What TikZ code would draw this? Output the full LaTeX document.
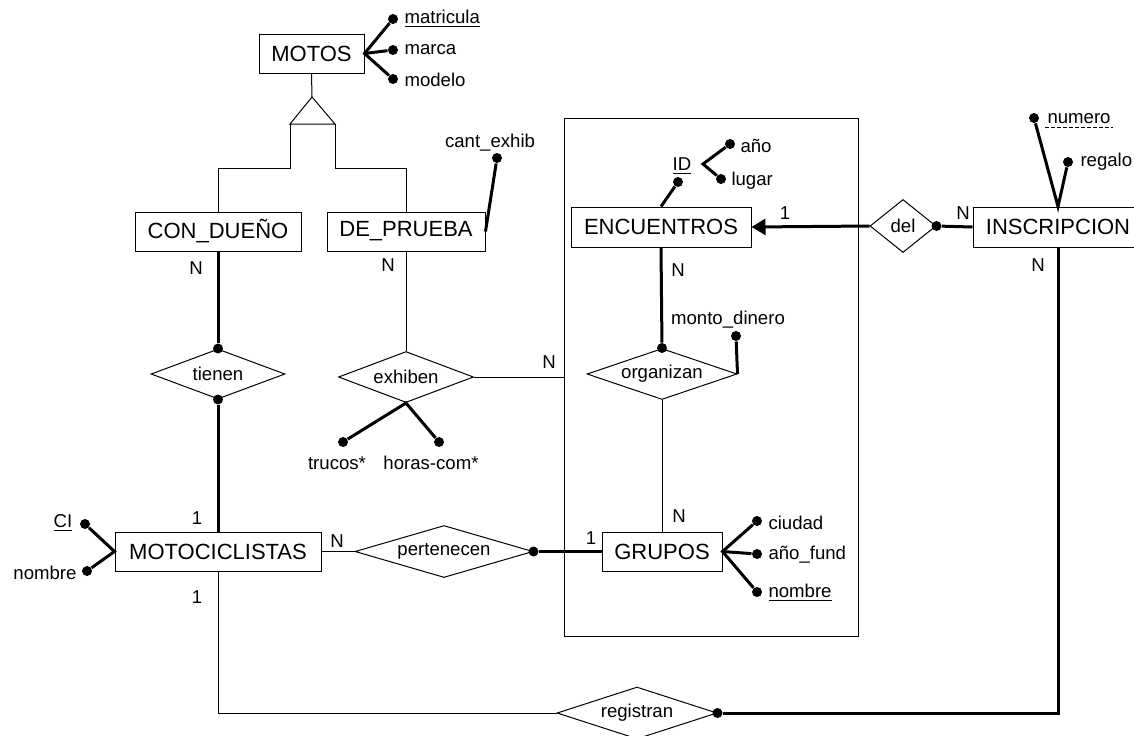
\documentclass[tikz,border=0pt]{standalone}
\usepackage{fontspec}
\setmainfont{Liberation Sans}
\usetikzlibrary{shapes.geometric}
\usetikzlibrary{arrows.meta}

\begin{document}
\begin{tikzpicture}[x=0.5pt, y=-0.5pt, line width=0.5pt,
            entity/.style = {
                draw,
                font=\fontsize{11}{13}\selectfont,
                inner sep=0pt,
                minimum height=19.5pt,
                },
            relation/.style = {
                draw,
                diamond,
                aspect=3,
                font=\fontsize{9.3}{11}\selectfont,
                inner sep=0pt,
                },
            attrib/.style = {font=\fontsize{9.3}{11}\selectfont, inner sep=1pt},
            card/.style = {font=\fontsize{9.3}{11}\selectfont, inner sep=0pt},
            dot/.style = {circle, fill, inner sep=0pt, minimum size=5pt},
            bold/.style = {line width=1.5pt}]
    \useasboundingbox (0,0) rectangle (1134,735);

    % entities
    \node[entity, minimum width=52.5pt] (motos) at (311.5,53.5) {MOTOS};
    \node[entity, minimum width=83pt] (condueno) at (218,231.5) {CON\_DUEÑO};
    \node[entity, minimum width=79pt] (deprueba) at (406,231.5) {DE\_PRUEBA};
    \node[entity, minimum width=90pt, minimum height=20pt] (encuentros) at (661,227) {ENCUENTROS};
    \node[entity, minimum width=85pt, minimum height=20pt] (inscripcion) at (1058,227) {INSCRIPCION};
    \node[entity, minimum width=103pt] (motociclistas) at (218,551.5) {MOTOCICLISTAS};
    \node[entity, minimum width=60pt] (grupos) at (662,551.5) {GRUPOS};

    % aggregation
    \node[draw, minimum width=147pt, minimum height=259pt, inner sep=0pt] (agg) at (711,377) {};

    % relationships
    \node[relation, minimum width=67pt, minimum height=25pt] (tienen) at (218,374) {tienen};
    \node[relation, minimum width=67.5pt, minimum height=25.5pt] (exhiben) at (406,377) {exhiben};
    \node[relation, minimum width=75pt, minimum height=25.5pt] (organizan) at (662,374) {organizan};
    \node[relation, aspect=1.25, minimum width=33pt, minimum height=26.5pt] (del) at (903,226) {del};
    \node[relation, minimum width=89pt, minimum height=26pt] (pertenecen) at (444,551.5) {pertenecen};
    \node[relation, minimum width=80pt, minimum height=26pt] (registran) at (637,713) {registran};

    % ISA
    \coordinate (isa) at (312,97);
    \coordinate (isa-l) at (290,124);
    \coordinate (isa-r) at (335,124);
    \draw (isa) -- (isa-l) -- (isa-r) -- cycle;
    \draw (motos.south) -- (isa);
    \draw (isa-l) -- ++(0,44) -| (condueno.north);
    \draw (isa-r) -- ++(0,44) -| (deprueba.north);

    % attributes
    \node[dot] (d-matricula) at (393,19) {};
    \node[dot] (d-marca) at (393,50) {};
    \node[dot] (d-modelo) at (393,79) {};
    \node[attrib, anchor=west] (matricula) at (402,19) {\underline{matricula}};
    \node[attrib, anchor=west] (marca) at (402,50) {marca};
    \node[attrib, anchor=west] (modelo) at (402,80) {modelo};
    \draw[bold] (d-matricula) -- (motos.east) -- (d-modelo);
    \draw[bold] (motos.east) -- (d-marca);

    \node[dot] (d-cant) at (497,158) {};
    \node[attrib] (cant) at (490,143) {cant\_exhib};
    \draw[bold] (deprueba.east) -- (d-cant);

    \node[dot] (d-trucos) at (343,442) {};
    \node[dot] (d-horas) at (439,442) {};
    \node[attrib] (trucos) at (337,463) {trucos*};
    \node[attrib] (horas) at (431,463) {horas-com*};
    \draw[bold] (d-trucos) -- (exhiben.south) -- (d-horas);

    \node[attrib] (id) at (682,166) {\underline{ID}};
    \node[dot] (d-id) at (678,182) {};
    \draw[bold] (encuentros.north) -- (d-id);
    \coordinate (id-c) at (703,164);
    \node[dot] (d-anio) at (730,144) {};
    \node[dot] (d-lugar) at (721,179) {};
    \node[attrib, anchor=west] (anio) at (738,146) {año};
    \node[attrib, anchor=west] (lugar) at (729,181) {lugar};
    \draw[bold] (d-anio) -- (id-c) -- (d-lugar);

    \node[dot] (d-monto) at (736,336) {};
    \node[attrib] (monto) at (728,320) {monto\_dinero};
    \draw[bold] (organizan.east) -- (d-monto);

    \node[dot] (d-ciudad) at (757,521) {};
    \node[dot] (d-fund) at (757,554) {};
    \node[dot] (d-gnombre) at (757,592) {};
    \node[attrib, anchor=west] (ciudad) at (766,523) {ciudad};
    \node[attrib, anchor=west] (fund) at (766,555) {año\_fund};
    \node[attrib, anchor=west] (gnombre) at (766,593) {\underline{nombre}};
    \draw[bold] (d-ciudad) -- (grupos.east) -- (d-gnombre);
    \draw[bold] (grupos.east) -- (d-fund);

    \node[dot] (d-ci) at (85,524) {};
    \node[dot] (d-mnombre) at (87,571) {};
    \node[attrib] (ci) at (63,523) {\underline{CI}};
    \node[attrib] (mnombre) at (45,573) {nombre};
    \draw[bold] (d-ci) -- (motociclistas.west) -- (d-mnombre);

    \node[dot] (d-numero) at (1034,118) {};
    \node[dot] (d-regalo) at (1068,162) {};
    \node[attrib, anchor=west] (numero) at (1045,119) {numero};
    \node[attrib, anchor=west] (regalo) at (1078,162) {regalo};
    \draw[dash pattern=on 2pt off 1pt] ([yshift=-1.8pt]numero.base west) -- ([yshift=-1.8pt]numero.base east);
    \draw[bold] (d-numero) -- (inscripcion.north) -- (d-regalo);

    % participation dots
    \node[dot] (tienen-t) at (tienen.north) {};
    \node[dot] (tienen-b) at (tienen.south) {};
    \node[dot] (organizan-t) at (organizan.north) {};
    \node[dot] (del-r) at (del.east) {};
    \node[dot] (pertenecen-r) at (pertenecen.east) {};
    \node[dot] (registran-r) at (registran.east) {};

    % connectors
    \draw[bold] (condueno.south) -- (tienen-t);
    \draw[bold] (tienen-b) -- (motociclistas.north);
    \draw (deprueba.south) -- (exhiben.north);
    \draw (exhiben.east) -- (agg.west);
    \draw[bold] (encuentros.south) -- (organizan-t);
    \draw (organizan.south) -- (grupos.north);
    \draw[bold, -{Triangle[length=7pt, width=8pt]}] (del.west) -- (encuentros.east);
    \draw[bold] (del-r) -- (inscripcion.west);
    \draw[bold] (inscripcion.south) |- (registran-r);
    \draw (registran.west) -| (motociclistas.south);
    \draw (motociclistas.east) -- (pertenecen.west);
    \draw[bold] (pertenecen-r) -- (grupos.west);

    % cardinalities
    \node[card] (c1) at (196,268) {N};
    \node[card] (c2) at (388,265) {N};
    \node[card] (c3) at (197,518) {1};
    \node[card] (c4) at (197,597) {1};
    \node[card] (c5) at (337,541) {N};
    \node[card] (c6) at (591,538) {1};
    \node[card] (c7) at (679,516) {N};
    \node[card] (c8) at (678,270) {N};
    \node[card] (c9) at (549,362) {N};
    \node[card] (c10) at (785,213) {1};
    \node[card] (c11) at (963,213) {N};
    \node[card] (c12) at (1038,265) {N};
\end{tikzpicture}
\end{document}
